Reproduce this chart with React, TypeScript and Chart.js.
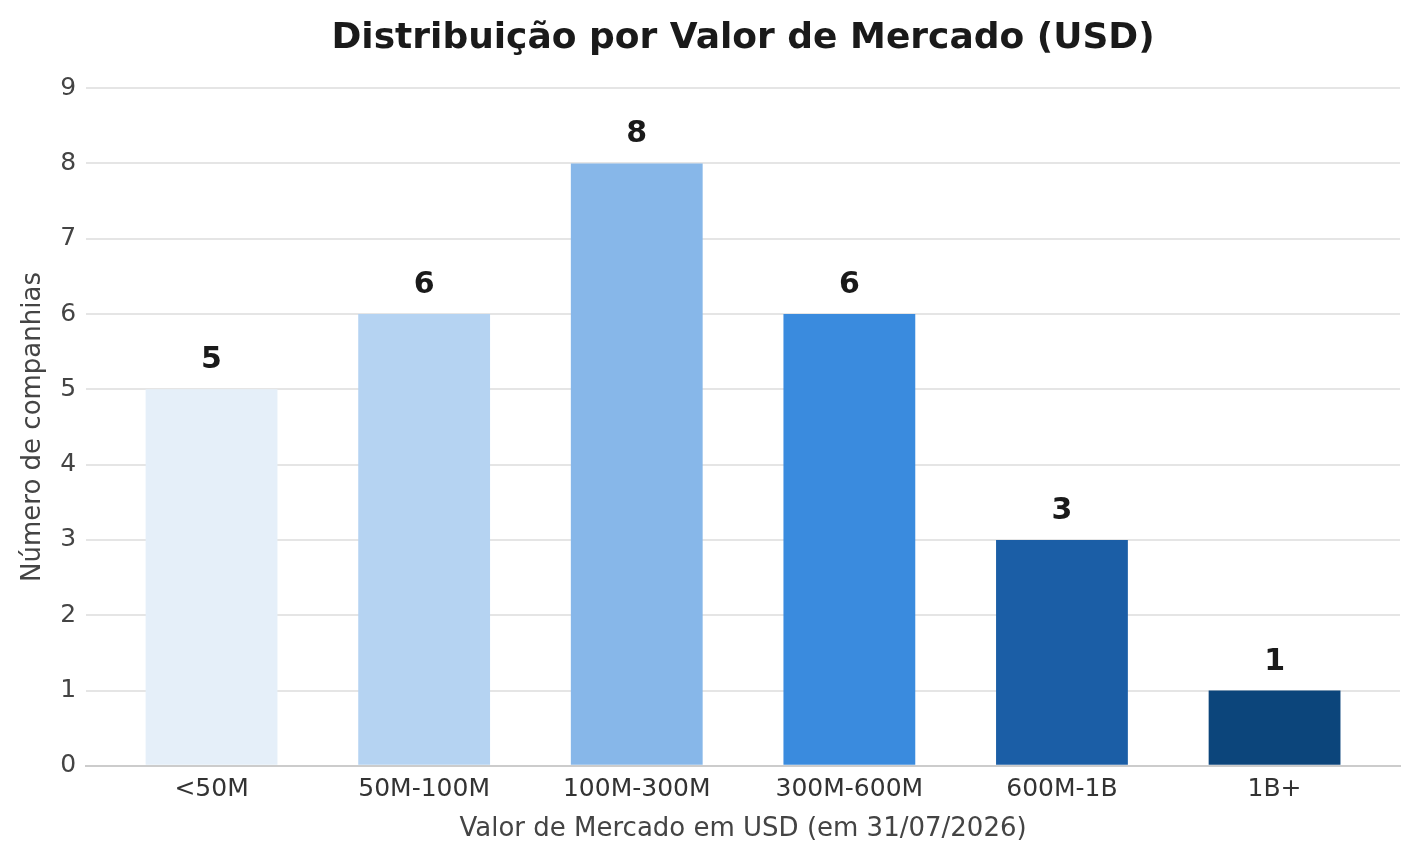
import React, { useEffect, useRef } from "react";
import { Chart, registerables } from "chart.js";

Chart.register(...registerables);

const categories = ["<50M", "50M-100M", "100M-300M", "300M-600M", "600M-1B", "1B+"];
const counts = [5, 6, 8, 6, 3, 1];
const barColors = ["#e5eff9", "#b5d3f2", "#87b7e9", "#3a8bde", "#1b5ea6", "#0c457b"];
const yTicks = [0, 1, 2, 3, 4, 5, 6, 7, 8, 9];

const FONT = "'DejaVu Sans', sans-serif";

const valueLabels = {
  id: "valueLabels",
  afterDatasetsDraw(chart: any) {
    const ctx = chart.ctx;
    const meta = chart.getDatasetMeta(0);
    ctx.save();
    ctx.font = `bold 30px ${FONT}`;
    ctx.fillStyle = "#1a1a1a";
    ctx.textAlign = "center";
    ctx.textBaseline = "alphabetic";
    meta.data.forEach((el: any, i: number) => {
      ctx.fillText(String(counts[i]), el.x, el.y - 21);
    });
    ctx.restore();
  },
};

export default function App() {
  const ref = useRef<HTMLCanvasElement>(null);
  useEffect(() => {
    if (!ref.current) return;
    const chart = new Chart(ref.current, {
      type: "bar",
      data: {
        datasets: [
          {
            data: counts.map((v, i) => ({ x: i, y: v })),
            backgroundColor: barColors,
            borderWidth: 0,
            categoryPercentage: 1,
            barPercentage: 0.62,
          },
        ],
      },
      options: {
        responsive: false,
        animation: false,
        layout: { padding: { left: 18, right: 20, top: 4, bottom: 15 } },
        plugins: {
          legend: { display: false },
          tooltip: { enabled: false },
          title: {
            display: true,
            text: "Distribuição por Valor de Mercado (USD)",
            fullSize: false,
            color: "#1a1a1a",
            font: { family: FONT, size: 36, weight: "bold" },
            padding: { top: 13, bottom: 28 },
          },
        },
        scales: {
          x: {
            type: "linear",
            offset: false,
            min: -0.59,
            max: 5.59,
            afterBuildTicks: (scale: any) => {
              scale.ticks = categories.map((_, i) => ({ value: i }));
            },
            ticks: {
              callback: (v: any) => categories[v as number] ?? "",
              color: "#333333",
              font: { family: FONT, size: 25 },
              padding: 9,
              maxRotation: 0,
              autoSkip: false,
            },
            grid: { display: false, drawTicks: false },
            border: { display: true, color: "#cccccc", width: 2 },
            title: {
              display: true,
              text: "Valor de Mercado em USD (em 31/07/2026)",
              color: "#444444",
              font: { family: FONT, size: 26 },
              padding: { top: 0, bottom: 0 },
            },
          },
          y: {
            min: 0,
            max: 9,
            afterBuildTicks: (scale: any) => {
              scale.ticks = yTicks.map((v) => ({ value: v }));
            },
            ticks: {
              color: "#444444",
              font: { family: FONT, size: 25 },
              padding: 10,
            },
            grid: { color: "#e5e5e5", lineWidth: 2, drawTicks: false },
            border: { display: false },
            title: {
              display: true,
              text: "Número de companhias",
              color: "#444444",
              font: { family: FONT, size: 26 },
              padding: { top: 0, bottom: 1 },
            },
          },
        },
      },
      plugins: [valueLabels],
    } as any);
    return () => chart.destroy();
  }, []);
  return (
    <div style={{ position: "fixed", left: 0, top: 0, width: 1420, height: 860, background: "#fff" }}>
      <canvas ref={ref} width={1420} height={860} style={{ width: 1420, height: 860, display: "block" }} />
    </div>
  );
}
